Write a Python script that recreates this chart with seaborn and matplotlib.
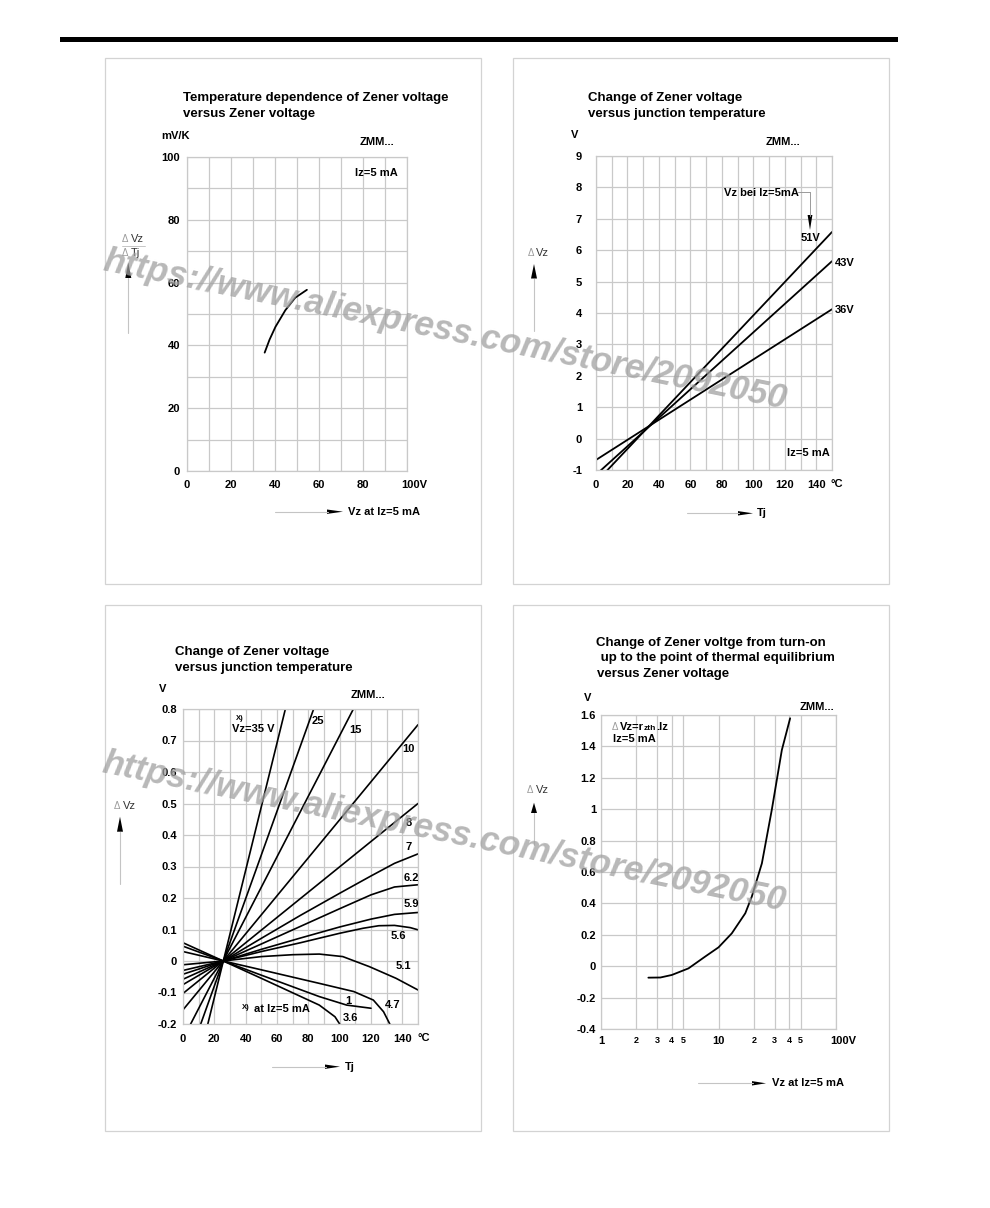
import numpy as np
import pandas as pd
import matplotlib
matplotlib.use("Agg")
import matplotlib.pyplot as plt
import seaborn as sns
from matplotlib.lines import Line2D
from matplotlib.patches import Rectangle, Polygon
from matplotlib.ticker import NullLocator, NullFormatter
from matplotlib.transforms import ScaledTranslation

# ---------------- data ----------------
# Panel 1: temperature coefficient vs Zener voltage
p1_vz = [35.3, 37.5, 40.2, 44.7, 49.2, 54.5]
p1_tc = [37.7, 41.8, 45.9, 51.2, 55.2, 57.7]

# Panel 2: change of Vz vs junction temperature (high-voltage types)
p2_tj = [0, 150]
p2_51 = [-1.39, 6.58]
p2_43 = [-1.15, 5.65]
p2_36 = [-0.68, 4.12]
p2_names = ["51V", "43V", "36V"]

# Panel 3: change of Vz vs junction temperature (ZMM series)
p3_t_lin = [0, 150]
p3_v35 = [-0.52, 2.51]
p3_v25 = [-0.357, 1.724]
p3_v15 = [-0.247, 1.197]
p3_v10 = [-0.155, 0.75]
p3_v8 = [-0.103, 0.50]
p3_t_7 = [0, 25.7, 50, 75, 100, 120, 135, 150]
p3_v7 = [-0.075, 0, 0.072, 0.145, 0.215, 0.27, 0.31, 0.34]
p3_t_62 = [0, 25.7, 50, 75, 100, 120, 135, 150]
p3_v62 = [-0.058, 0, 0.054, 0.11, 0.166, 0.21, 0.235, 0.242]
p3_t_59 = [0, 25.7, 50, 75, 100, 120, 135, 150]
p3_v59 = [-0.042, 0, 0.037, 0.073, 0.108, 0.133, 0.148, 0.154]
p3_t_56 = [0, 25.7, 50, 75, 100, 115, 125, 135, 145, 150]
p3_v56 = [-0.03, 0, 0.03, 0.058, 0.088, 0.104, 0.112, 0.113, 0.106, 0.099]
p3_t_51 = [0, 25.7, 50, 70, 87, 102, 119, 136, 150]
p3_v51 = [-0.012, 0, 0.014, 0.02, 0.022, 0.014, -0.018, -0.055, -0.092]
p3_t_47 = [0, 25.7, 50, 87, 109, 121.5, 128, 132]
p3_v47 = [0.03, 0, -0.028, -0.071, -0.097, -0.124, -0.161, -0.2]
p3_t_1 = [0, 25.7, 50, 87, 104.5, 120]
p3_v1 = [0.047, 0, -0.045, -0.113, -0.14, -0.15]
p3_t_36 = [0, 25.7, 50, 87, 97, 100]
p3_v36 = [0.058, 0, -0.055, -0.14, -0.177, -0.2]

# Panel 4: change of Vz from turn-on to thermal equilibrium
p4_vz = [2.53, 3.2, 4.0, 5.55, 7.69, 10.0, 12.97, 16.9, 19.2, 23.4, 28.4, 34.6, 40.7]
p4_dv = [-0.073, -0.072, -0.056, -0.014, 0.061, 0.12, 0.209, 0.337, 0.443, 0.655, 0.995, 1.377, 1.579]

# tick labels
p1_xlabels = ["0", "20", "40", "60", "80", "100V"]
p1_ylabels = ["0", "20", "40", "60", "80", "100"]
p2_xlabels = ["0", "20", "40", "60", "80", "100", "120", "140"]
p2_ylabels = ["-1", "0", "1", "2", "3", "4", "5", "6", "7", "8", "9"]
p3_xlabels = ["0", "20", "40", "60", "80", "100", "120", "140"]
p3_ylabels = ["-0.2", "-0.1", "0", "0.1", "0.2", "0.3", "0.4", "0.5", "0.6", "0.7", "0.8"]
p4_xticks = [1, 2, 3, 4, 5, 10, 20, 30, 40, 50, 100]
p4_xlabels = ["1", "2", "3", "4", "5", "10", "2", "3", "4", "5", "100V"]
p4_ylabels = ["-0.4", "-0.2", "0", "0.2", "0.4", "0.6", "0.8", "1", "1.2", "1.4", "1.6"]

# ---------------- style ----------------
sns.set_style("white")
plt.rcParams['font.family'] = ['Liberation Sans', 'DejaVu Sans']

W, H = 990, 1208
GRID = '#c9c9c9'
fig = plt.figure(figsize=(9.9, 12.08), dpi=100)


def text(x, y, s, size=8, ha='left', va='center', weight='bold', color='black', **kw):
    fig.text(x / W, 1 - y / H, s, fontsize=size, ha=ha, va=va,
             fontweight=weight, color=color, **kw)


def seg(x0, y0, x1, y1, color='#c4c4c4', lw=0.8):
    fig.add_artist(Line2D([x0 / W, x1 / W], [1 - y0 / H, 1 - y1 / H], color=color, lw=lw))


def poly(pts, color='black'):
    fig.add_artist(Polygon([(x / W, 1 - y / H) for x, y in pts], closed=True,
                           facecolor=color, edgecolor='none'))


def arrow_right(x0, x1, y, h=2.2):
    poly([(x0, y - h), (x1, y), (x0, y + h)])


def arrow_up(x, ytip, ybase, h=3.0):
    poly([(x - h, ybase), (x, ytip), (x + h, ybase)])


def arrow_down(x, ytip, ybase, h=2.4):
    poly([(x - h, ybase), (x, ytip), (x + h, ybase)])


def make_ax(l, r, t, b):
    ax = fig.add_axes([l / W, 1 - b / H, (r - l) / W, (b - t) / H])
    ax.set_facecolor('none')
    return ax


def style(ax, xticks, xlabels, yticks, ylabels, xpad, ypad):
    ax.set_xticks(xticks)
    ax.set_xticklabels(xlabels)
    ax.set_yticks(yticks)
    ax.set_yticklabels(ylabels)
    ax.tick_params(length=0, labelsize=8, colors='black')
    ax.tick_params(axis='x', pad=xpad)
    ax.tick_params(axis='y', pad=ypad)
    for lab in ax.get_xticklabels() + ax.get_yticklabels():
        lab.set_fontweight('bold')
    ax.grid(True, color=GRID, lw=0.9)
    ax.set_axisbelow(True)
    for s in ax.spines.values():
        s.set_visible(True)
        s.set_color(GRID)
        s.set_linewidth(0.9)
    ax.set_xlabel('')
    ax.set_ylabel('')


def shift_label(lab, dx_px):
    lab.set_transform(lab.get_transform() + ScaledTranslation(dx_px / 100, 0, fig.dpi_scale_trans))


# page frame
fig.add_artist(Rectangle((60 / W, 1 - 42 / H), (898 - 60) / W, 5 / H, facecolor='black',
                         edgecolor='none'))
for (bx, by) in [(105, 58), (513, 58), (105, 605), (513, 605)]:
    fig.add_artist(Rectangle((bx / W, 1 - (by + 526) / H), 376 / W, 526 / H, fill=False,
                             edgecolor='#d3d3d3', lw=0.9))

LW = 1.3

# ---------------- Panel 1 ----------------
ax1 = make_ax(187, 407, 157, 471)
sns.lineplot(x=p1_vz, y=p1_tc, ax=ax1, color='black', lw=LW)
ax1.set_xlim(0, 100)
ax1.set_ylim(0, 100)
style(ax1, np.arange(0, 101, 10), [p1_xlabels[i // 2] if i % 2 == 0 else '' for i in range(11)],
      np.arange(0, 101, 10), [p1_ylabels[i // 2] if i % 2 == 0 else '' for i in range(11)],
      xpad=6.5, ypad=5)
shift_label(ax1.get_xticklabels()[-1], 7)

text(182.7, 98.3, "Temperature dependence of Zener voltage", size=9.5)
text(182.7, 114, "versus Zener voltage", size=9.5)
text(175, 136, "mV/K", size=8, ha='center')
text(376.7, 141.7, "ZMM...", size=8, ha='center')
text(376.7, 172.7, "Iz=5 mA", size=8, ha='center')
text(121.7, 239.5, "Δ", size=7, color='#9a9a9a', weight='normal')
text(130.7, 239.5, "Vz", size=8, color='#333333', weight='normal')
text(121.7, 253.3, "Δ", size=7, color='#9a9a9a', weight='normal')
text(130.7, 253.3, "Tj", size=8, color='#333333', weight='normal')
seg(121.7, 246, 145, 246, color='#bdbdbd', lw=0.6)
arrow_up(128.3, 262.5, 278)
seg(128.3, 278, 128.3, 333)
seg(275, 511.7, 328, 511.7)
arrow_right(327, 343, 511.7)
text(348, 511.7, "Vz at Iz=5 mA", size=8)

# ---------------- Panel 2 ----------------
ax2 = make_ax(596, 832, 156, 470)
for vals in [p2_51, p2_43, p2_36]:
    sns.lineplot(x=p2_tj, y=vals, ax=ax2, color='black', lw=LW)
ax2.set_xlim(0, 150)
ax2.set_ylim(-1, 9)
style(ax2, np.arange(0, 151, 10), [p2_xlabels[i // 2] if i % 2 == 0 and i // 2 < len(p2_xlabels) else '' for i in range(16)],
      np.arange(-1, 10, 1), p2_ylabels, xpad=7, ypad=10)

text(588.3, 98.3, "Change of Zener voltage", size=9.5)
text(588.3, 114, "versus junction temperature", size=9.5)
text(575, 135, "V", size=8, ha='center')
text(782.7, 141.7, "ZMM...", size=8, ha='center')
text(724, 193.3, "Vz bei Iz=5mA", size=8)
seg(798.3, 191.7, 810, 191.7, color='#9a9a9a', lw=0.7)
seg(810, 191.7, 810, 216, color='#9a9a9a', lw=0.7)
arrow_down(810, 230, 215)
text(810, 238.3, p2_names[0], size=8, ha='center')
text(844.3, 263.3, p2_names[1], size=8, ha='center')
text(845, 310, p2_names[2], size=8, ha='center')
text(808.3, 453.3, "Iz=5 mA", size=8, ha='center')
text(836.7, 484, "°C", size=8, ha='center')
text(527.7, 252.7, "Δ", size=7, color='#9a9a9a', weight='normal')
text(535.7, 252.7, "Vz", size=8, color='#333333', weight='normal')
arrow_up(534, 264, 278.5)
seg(534, 278.5, 534, 331)
seg(686.7, 513.3, 739, 513.3)
arrow_right(738, 753, 513.3)
text(757, 513.3, "Tj", size=8)

# ---------------- Panel 3 ----------------
ax3 = make_ax(183, 418, 709, 1024)
for tt, vv in [(p3_t_lin, p3_v35), (p3_t_lin, p3_v25), (p3_t_lin, p3_v15),
               (p3_t_lin, p3_v10), (p3_t_lin, p3_v8), (p3_t_7, p3_v7),
               (p3_t_62, p3_v62), (p3_t_59, p3_v59), (p3_t_56, p3_v56),
               (p3_t_51, p3_v51), (p3_t_47, p3_v47), (p3_t_1, p3_v1),
               (p3_t_36, p3_v36)]:
    sns.lineplot(x=tt, y=vv, ax=ax3, color='black', lw=1.2)
ax3.set_xlim(0, 150)
ax3.set_ylim(-0.2, 0.8)
style(ax3, np.arange(0, 151, 10), [p3_xlabels[i // 2] if i % 2 == 0 and i // 2 < len(p3_xlabels) else '' for i in range(16)],
      np.linspace(-0.2, 0.8, 11), p3_ylabels, xpad=7, ypad=4.5)

text(175, 651.7, "Change of Zener voltage", size=9.5)
text(175, 667.7, "versus junction temperature", size=9.5)
text(162.3, 689.3, "V", size=8, ha='center')
text(368.3, 695, "ZMM...", size=8, ha='center')
text(240, 718.5, "X)", size=5.5, ha='center')
text(232, 728.5, "Vz=35 V", size=8)
text(317.7, 721, "25", size=8, ha='center')
text(355.7, 730, "15", size=8, ha='center')
text(408.3, 749.3, "10", size=8, ha='center')
text(409, 823.3, "8", size=8, ha='center')
text(409, 847.3, "7", size=8, ha='center')
text(411.7, 877.7, "6.2", size=8, ha='center')
text(411.7, 904.3, "5.9", size=8, ha='center')
text(398.3, 936, "5.6", size=8, ha='center')
text(403.3, 966, "5.1", size=8, ha='center')
text(392.3, 1005, "4.7", size=8, ha='center')
text(348.3, 1000.7, "1", size=8, ha='center')
text(350, 1018.3, "3.6", size=8, ha='center')
text(245.7, 1007.5, "X)", size=5.5, ha='center')
text(254, 1009.3, "at Iz=5 mA", size=8)
text(423.3, 1038.3, "°C", size=8, ha='center')
text(113.3, 806, "Δ", size=7, color='#9a9a9a', weight='normal')
text(123.3, 806, "Vz", size=8, color='#333333', weight='normal')
arrow_up(120, 816.7, 831.7)
seg(120, 831.7, 120, 884)
seg(271.7, 1066.7, 326, 1066.7)
arrow_right(325, 340, 1066.7)
text(345, 1066.7, "Tj", size=8)

# ---------------- Panel 4 ----------------
ax4 = make_ax(601, 836, 715, 1029)
sns.lineplot(x=p4_vz, y=p4_dv, ax=ax4, color='black', lw=LW)
ax4.set_xscale('log')
ax4.set_xlim(1, 100)
ax4.set_ylim(-0.4, 1.6)
ax4.xaxis.set_minor_locator(NullLocator())
ax4.xaxis.set_minor_formatter(NullFormatter())
style(ax4, p4_xticks, p4_xlabels, np.linspace(-0.4, 1.6, 11), p4_ylabels, xpad=5, ypad=3.6)
for lab, v in zip(ax4.get_xticklabels(), p4_xticks):
    if v not in (1, 10, 100):
        lab.set_fontsize(6.5)
shift_label(ax4.get_xticklabels()[-1], 7)

text(596, 642.7, "Change of Zener voltge from turn-on", size=9.5)
text(597.3, 658.3, " up to the point of thermal equilibrium", size=9.5)
text(596.7, 674, "versus Zener voltage", size=9.5)
text(587.7, 698.3, "V", size=8, ha='center')
text(816.7, 706.7, "ZMM...", size=8, ha='center')
text(611.7, 726.5, "Δ", size=7, color='#9a9a9a', weight='normal')
text(620, 726.5, "Vz=r", size=8)
text(643.3, 728.5, "zth", size=6)
text(656.5, 726.5, ".Iz", size=8)
text(613, 738.8, "Iz=5 mA", size=8)
text(526.7, 790, "Δ", size=7, color='#9a9a9a', weight='normal')
text(535.7, 790, "Vz", size=8, color='#333333', weight='normal')
arrow_up(534, 802.7, 813)
seg(534, 813, 534, 845)
seg(698.3, 1083.3, 753, 1083.3)
arrow_right(752, 766, 1083.3)
text(771.7, 1083.3, "Vz at Iz=5 mA", size=8)

# ---------------- watermark ----------------
for cx, cy in [(445, 330), (444, 832)]:
    fig.text(cx / W, 1 - cy / H, "https://www.aliexpress.com/store/2092050",
             rotation=-11.5, fontsize=25, fontweight='bold', style='italic',
             color='#a0a0a0', alpha=0.75, ha='center', va='center',
             rotation_mode='anchor', zorder=20)

fig.savefig("out.png", dpi=100, facecolor='white')
